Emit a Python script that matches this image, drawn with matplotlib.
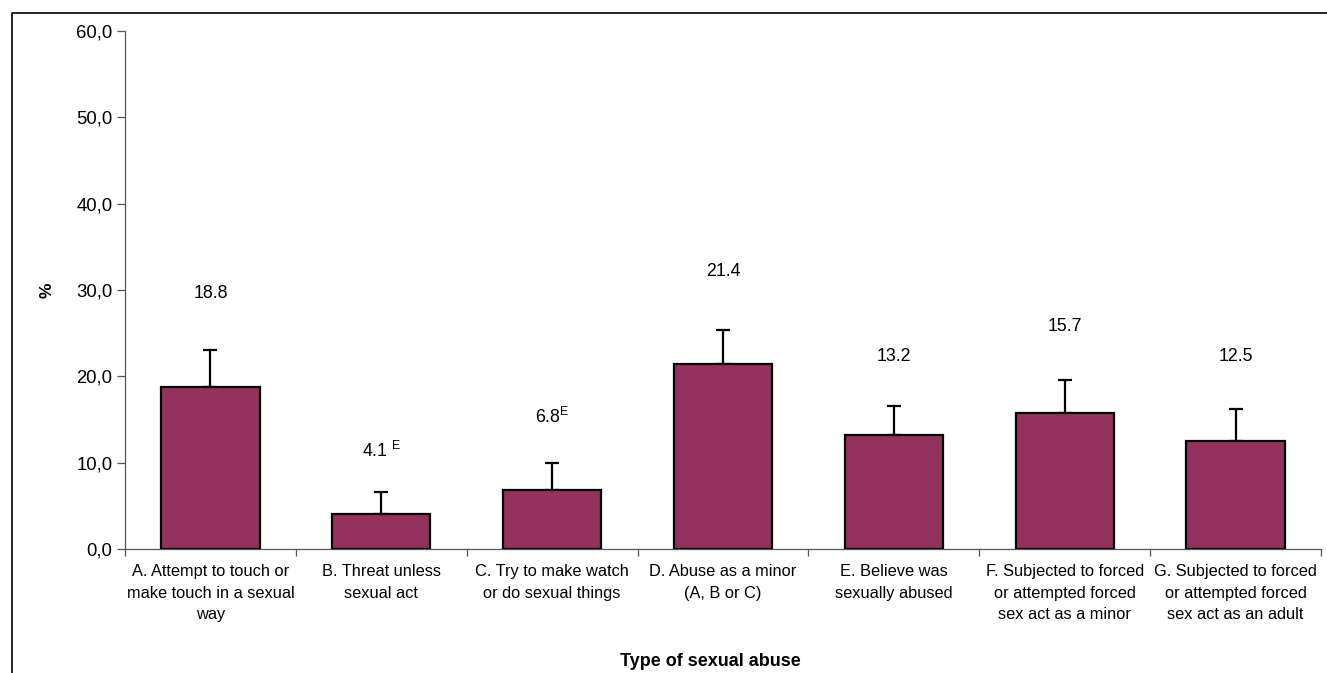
import matplotlib.pyplot as plt
from matplotlib.lines import Line2D

plt.rcParams['font.family'] = ['Liberation Sans', 'DejaVu Sans']
plt.rcParams['mathtext.fontset'] = 'custom'
plt.rcParams['mathtext.rm'] = 'Liberation Sans'

categories = ['A. Attempt to touch or\nmake touch in a sexual\nway',
              'B. Threat unless\nsexual act',
              'C. Try to make watch\nor do sexual things',
              'D. Abuse as a minor\n(A, B or C)',
              'E. Believe was\nsexually abused',
              'F. Subjected to forced\nor attempted forced\nsex act as a minor',
              'G. Subjected to forced\nor attempted forced\nsex act as an adult']
values = [18.8, 4.1, 6.8, 21.4, 13.2, 15.7, 12.5]
upper_err = [4.2, 2.5, 3.2, 4.0, 3.4, 3.9, 3.7]
value_labels = ['18.8', r'4.1 $^{\mathrm{E}}$', r'6.8$^{\mathrm{E}}$',
                '21.4', '13.2', '15.7', '12.5']
yticks = [0, 10, 20, 30, 40, 50, 60]

# label heights (where the text boxes sit in the original)
label_y = [29.6, 11.3, 15.3, 32.2, 22.3, 25.8, 22.3]

W, H = 1327, 673
fig = plt.figure(figsize=(W / 100, H / 100), dpi=100)
ax = fig.add_axes([125 / W, (H - 549) / H, (1321 - 125) / W, (549 - 31) / H])

x = list(range(len(values)))
ax.bar(x, values, width=0.575, color='#93325F', edgecolor='black', linewidth=1.6, zorder=2)
ax.errorbar(x, values, yerr=[[0] * len(values), upper_err], fmt='none',
            ecolor='black', elinewidth=1.6, capsize=4.8, capthick=1.6, zorder=1)

for xi, ly, t in zip(x, label_y, value_labels):
    ax.text(xi, ly, t, ha='center', va='center', fontsize=12.8)

ax.set_xlim(-0.5, len(values) - 0.5)
ax.set_ylim(0, 60)
ax.set_yticks(yticks)
ax.set_yticklabels([f'{v:.1f}'.replace('.', ',') for v in yticks], fontsize=13.3)

ax.set_xticks([i - 0.5 for i in range(len(values) + 1)])
ax.set_xticklabels([])
ax.set_xticks(x, minor=True)
ax.set_xticklabels(categories, minor=True, fontsize=11.8, linespacing=1.55, va='top')
ax.tick_params(axis='x', which='minor', length=0, pad=11)
ax.tick_params(axis='x', which='major', length=5, direction='out', width=0.9, color='#555555')
ax.tick_params(axis='y', length=6, direction='out', width=0.9, color='#555555', pad=3)

for s in ['top', 'right']:
    ax.spines[s].set_visible(False)
for s in ['left', 'bottom']:
    ax.spines[s].set_color('#555555')
    ax.spines[s].set_linewidth(0.9)

fig.text(47 / W, 1 - 290 / H, '%', rotation=90, ha='center', va='center',
         fontsize=12.5, fontweight='bold')
fig.text(710 / W, 1 - 662 / H, 'Type of sexual abuse', ha='center', va='center',
         fontsize=13, fontweight='bold')

fig.add_artist(Line2D([12 / W, 12 / W, 1.0], [0.0, 1 - 13 / H, 1 - 13 / H],
                      transform=fig.transFigure, color='black', linewidth=1.2))

fig.savefig('out.png', dpi=100)
